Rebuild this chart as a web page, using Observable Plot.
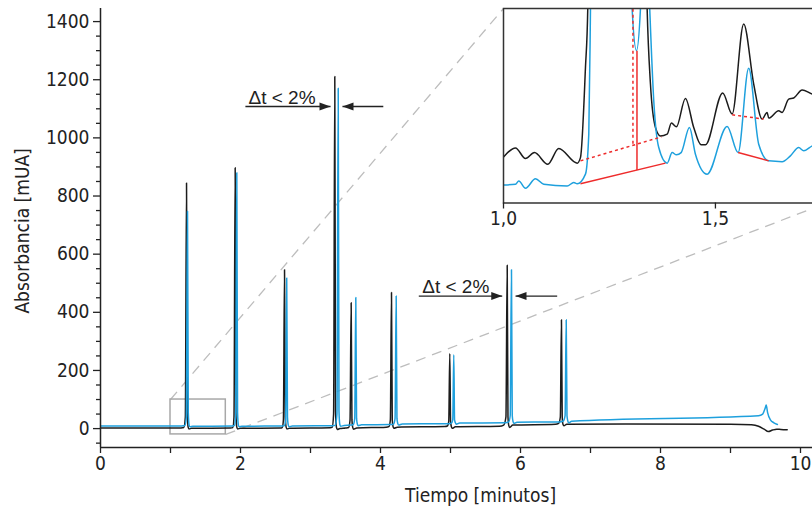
<!DOCTYPE html>
<html>
<head>
<meta charset="utf-8">
<script src="https://cdn.jsdelivr.net/npm/d3@7"></script>
<script src="https://cdn.jsdelivr.net/npm/@observablehq/plot@0.6"></script>
<style>
  html, body { margin: 0; padding: 0; background: #fff; overflow: hidden; }
  #wrap { position: relative; width: 812px; height: 508px; overflow: hidden; background: #fff; }
  #inset { position: absolute; }
  #wrap svg { max-width: none !important; }
</style>
</head>
<body>
<div id="wrap"><div id="inset"></div></div>
<script>
// ---------- data ----------
// main chromatogram: [time (min), absorbance (mUA)]
const blackTrace = [
  [0.00, 2], [1.15, 2], [1.19, 3.5], [1.212, 40], [1.229, 845], [1.240, 55], [1.252, 5], [1.264, -1], [1.30, 1],
  [1.86, 2], [1.89, 3.5], [1.907, 40], [1.924, 897], [1.935, 55], [1.947, 5], [1.959, -1], [1.995, 1],
  [2.57, 2], [2.596, 3.5], [2.613, 30], [2.629, 546], [2.640, 40], [2.652, 5], [2.664, -1], [2.70, 1],
  [3.28, 3], [3.31, 4.5], [3.330, 50], [3.347, 1211], [3.358, 60], [3.370, 5], [3.382, -3], [3.42, 0],
  [3.50, 2], [3.545, 4], [3.565, 30], [3.581, 433], [3.592, 30], [3.603, 4], [3.615, -2], [3.66, 2],
  [4.08, 5], [4.12, 7], [4.141, 30], [4.157, 468], [4.168, 30], [4.180, 6], [4.192, 1], [4.24, 5],
  [4.92, 7], [4.955, 9], [4.975, 25], [4.990, 258], [5.001, 25], [5.013, 6], [5.025, 1], [5.07, 6],
  [5.70, 8], [5.76, 12], [5.792, 40], [5.810, 562], [5.821, 40], [5.833, 10], [5.845, 4], [5.89, 12],
  [6.50, 15], [6.545, 18], [6.569, 40], [6.585, 374], [6.596, 40], [6.608, 14], [6.620, 10], [6.66, 15],
  [7.50, 16], [9.00, 15], [9.30, 13], [9.40, 8], [9.48, -2], [9.54, -10], [9.60, -5], [9.66, -2], [9.72, -3], [9.81, -4]
];
const blueTrace = [
  [0.00, 9], [1.16, 9], [1.205, 10.5], [1.226, 40], [1.243, 748], [1.254, 55], [1.266, 12], [1.278, 6], [1.32, 8],
  [1.88, 9], [1.912, 10.5], [1.930, 40], [1.947, 880], [1.958, 55], [1.970, 12], [1.982, 6], [2.02, 8],
  [2.60, 9], [2.628, 10.5], [2.645, 30], [2.660, 518], [2.671, 40], [2.683, 12], [2.695, 6], [2.74, 9],
  [3.32, 10], [3.355, 12], [3.378, 50], [3.396, 1171], [3.407, 60], [3.419, 14], [3.431, 8], [3.48, 11],
  [3.58, 12], [3.612, 14], [3.632, 35], [3.647, 451], [3.658, 35], [3.670, 15], [3.682, 10], [3.73, 13],
  [4.15, 14], [4.188, 16], [4.208, 35], [4.224, 456], [4.235, 35], [4.247, 17], [4.259, 12], [4.31, 16],
  [4.98, 17], [5.013, 19], [5.032, 30], [5.047, 254], [5.058, 30], [5.070, 20], [5.082, 15], [5.13, 19],
  [5.78, 20], [5.832, 23], [5.853, 45], [5.871, 546], [5.882, 45], [5.894, 24], [5.906, 18], [5.95, 22],
  [6.56, 23], [6.610, 26], [6.637, 45], [6.653, 374], [6.664, 45], [6.676, 26], [6.688, 20], [6.73, 25],
  [9.40, 44], [9.46, 50], [9.495, 70], [9.51, 81], [9.53, 55], [9.57, 30], [9.62, 20], [9.67, 14]
];

// inset (zoom of 1.0 – 1.76 min), relative absorbance units
const insetBlack = [
  [1.0007, 28.6], [1.0283, 34.0], [1.0519, 27.4], [1.0731, 31.1], [1.1045, 23.9], [1.1304, 33.6],
  [1.1738, 24.6], [1.1816, 28.0], [1.1934, 83.7], [1.1988, 119.8], [1.205, 250], [1.33, 250],
  [1.3389, 119.8], [1.3467, 73.4], [1.3585, 46.6], [1.3703, 41.4], [1.3861, 42.5], [1.3962, 49.3],
  [1.408, 47.0], [1.4292, 64.5], [1.4488, 46.6], [1.4663, 35.9], [1.4764, 35.9], [1.5172, 67.9],
  [1.5394, 54.9], [1.5667, 110.5], [1.5903, 73.4], [1.6101, 51.8], [1.6219, 55.9], [1.6257, 52.4],
  [1.6493, 56.9], [1.6573, 55.9], [1.6729, 64.1], [1.6847, 64.8], [1.7045, 69.7], [1.7288, 67.2], [1.762, 66]
];
const insetBlue = [
  [1.0007, 11.1], [1.0283, 11.6], [1.0361, 13.6], [1.0519, 9.1], [1.0755, 15.0], [1.0950, 11.6],
  [1.1502, 10.5], [1.1658, 12.6], [1.1738, 11.8], [1.1934, 17.8], [1.2012, 42.5], [1.2052, 119.8],
  [1.21, 250], [1.295, 250], [1.3035, 119.8], [1.3137, 94.0], [1.3231, 119.8], [1.33, 170], [1.338, 170],
  [1.3450, 119.8], [1.3545, 63.1], [1.3663, 34.2], [1.3861, 24.6], [1.3979, 31.1], [1.4080, 29.7],
  [1.4191, 31.1], [1.4387, 46.6], [1.4528, 30.1], [1.4804, 17.8], [1.5276, 47.2], [1.5535, 31.1],
  [1.5785, 83.1], [1.6021, 36.3], [1.6257, 26.0], [1.6573, 25.5], [1.6769, 29.1], [1.6965, 34.2],
  [1.7083, 32.2], [1.7288, 35.3], [1.762, 37]
];
// integration baselines in the inset: [t1, v1, t2, v2, dashed]
const insetBaselines = [
  [1.1816, 11.9, 1.3821, 24.6, false],
  [1.3149, 94.0, 1.3149, 20.3, false],
  [1.1816, 26.0, 1.3726, 40.8, true],
  [1.3054, 119.8, 1.3054, 35.6, true],
  [1.5535, 31.1, 1.6257, 26.0, false],
  [1.5394, 54.4, 1.6139, 51.8, true]
];

// axes
const yTicks = [0, 200, 400, 600, 800, 1000, 1200, 1400];
const yMinor = [-50, 50, 100, 150, 250, 300, 350, 450, 500, 550, 650, 700, 750, 850, 900, 950, 1050, 1100, 1150, 1250, 1300, 1350];
const xTicks = [0, 1, 2, 3, 4, 5, 6, 7, 8, 9, 10];
const xLabels = ["0", "", "2", "", "4", "", "6", "", "8", "", "10"];
const insetTicks = [1.0, 1.5];
const insetTickLabels = ["1,0", "1,5"];
const xTitle = "Tiempo [minutos]";
const yTitle = "Absorbancia [mUA]";

// annotations
const notes = [
  {label: "\u0394t < 2%", tx: 2.114, ty: 1138, ly: 1108, lFrom: 2.07, lTip: 3.286, rFrom: 4.04, rTip: 3.457},
  {label: "\u0394t < 2%", tx: 4.596, ty: 488, ly: 456, lFrom: 4.547, lTip: 5.739, rFrom: 6.524, rTip: 5.929}
];
// zoom box (main coords) and where the inset sits (main coords)
const zoomBox = {x1: 1.0, x2: 1.79, y1: -20, y2: 100};
const insetPlace = {x1: 5.757, x2: 10.371, y1: 776, y2: 1445};
const insetDomainX = [1.0, 1.762];
const insetDomainY = [0, 120];

// ---------- styling ----------
const FONT_C = '"Liberation Sans Narrow","Arial Narrow","DejaVu Sans Condensed",sans-serif';
const FONT_R = '"Liberation Sans",Arial,sans-serif';
const BLACK = "#1c1c1c";
const BLUE = "#1ea0dd";
const RED = "#ee2b2b";
const AX = "#222";

const main = Plot.plot({
  width: 812, height: 508,
  marginLeft: 100, marginRight: 12, marginTop: 8, marginBottom: 61,
  x: {domain: [0, 10]},
  y: {domain: [-65, 1445]},
  style: {fontFamily: FONT_C, fontSize: "19px", color: AX, background: "transparent", overflow: "visible"},
  marks: [
    Plot.link([
      {x1: zoomBox.x1, y1: zoomBox.y2, x2: insetPlace.x1, y2: insetPlace.y2},
      {x1: zoomBox.x2, y1: zoomBox.y1, x2: insetPlace.x2, y2: insetPlace.y1}
    ], {x1: "x1", y1: "y1", x2: "x2", y2: "y2", stroke: "#bdbdbd", strokeWidth: 1.3, strokeDasharray: "10,7"}),
    Plot.rect([zoomBox], {x1: "x1", x2: "x2", y1: "y1", y2: "y2", fill: "none", stroke: "#a8a8a8", strokeWidth: 1.5}),
    Plot.line(blackTrace, {x: d => d[0], y: d => d[1], stroke: BLACK, strokeWidth: 1.5, curve: "monotone-x"}),
    Plot.line(blueTrace, {x: d => d[0], y: d => d[1], stroke: BLUE, strokeWidth: 1.5, curve: "monotone-x"}),
    Plot.ruleX([0], {stroke: AX, strokeWidth: 1.5}),
    Plot.ruleY([{y: -65, x1: 0, x2: 10.2}], {y: "y", x1: "x1", x2: "x2", stroke: AX, strokeWidth: 1.5}),
    Plot.axisY({ticks: yTicks, tickSize: 7, tickPadding: 4, label: null, tickFormat: d => String(d), strokeWidth: 1.3}),
    Plot.axisY({ticks: yMinor, tickSize: 4, tickPadding: 4, label: null, tickFormat: () => "", strokeWidth: 1.3}),
    Plot.axisX({ticks: xTicks, tickSize: 6, tickPadding: 3, label: null, tickFormat: d => xLabels[xTicks.indexOf(d)], strokeWidth: 1.3}),
    Plot.text([xTitle], {text: d => d, x: 5.43, frameAnchor: "bottom", lineAnchor: "middle", dy: 48, fontSize: 19}),
    Plot.text([yTitle], {text: d => d, y: 680, frameAnchor: "left", textAnchor: "middle", lineAnchor: "middle", dx: -78, rotate: -90, fontSize: 19}),
    // annotations
    Plot.link(notes, {x1: "lFrom", x2: "lTip", y1: "ly", y2: "ly", stroke: AX, strokeWidth: 1.3}),
    Plot.link(notes, {x1: "rFrom", x2: "rTip", y1: "ly", y2: "ly", stroke: AX, strokeWidth: 1.3}),
    Plot.vector(notes, {x: "lTip", y: "ly", rotate: 90, length: 11, r: 4, anchor: "end", shape: "spike", fill: AX, stroke: "none"}),
    Plot.vector(notes, {x: "rTip", y: "ly", rotate: -90, length: 11, r: 4, anchor: "end", shape: "spike", fill: AX, stroke: "none"}),
    Plot.text(notes, {x: "tx", y: "ty", text: "label", textAnchor: "start", fontFamily: FONT_R, fontSize: 19, fill: AX})
  ]
});
document.getElementById("wrap").insertBefore(main, document.getElementById("inset"));

// ---------- inset ----------
const xs = main.scale("x"), ys = main.scale("y");
const iLeft = xs.apply(insetPlace.x1), iRight = xs.apply(insetPlace.x2);
const iTop = ys.apply(insetPlace.y2), iBottom = ys.apply(insetPlace.y1);
const pad = 24;
const iWidth = Math.round((iRight - iLeft) + 2 * pad);
const iHeight = Math.round(iBottom + 40);
const inset = Plot.plot({
  width: iWidth,
  height: iHeight,
  marginLeft: pad, marginRight: iWidth - pad - (iRight - iLeft), marginTop: iTop, marginBottom: iHeight - iBottom,
  x: {domain: insetDomainX},
  y: {domain: insetDomainY, axis: null},
  style: {fontFamily: FONT_C, fontSize: "19px", color: AX, background: "transparent", overflow: "visible"},
  marks: [
    Plot.frame({fill: "white", stroke: "none"}),
    Plot.line(insetBlack, {x: d => d[0], y: d => d[1], stroke: BLACK, strokeWidth: 1.5, curve: "monotone-x", clip: true}),
    Plot.line(insetBlue, {x: d => d[0], y: d => d[1], stroke: BLUE, strokeWidth: 1.5, curve: "monotone-x", clip: true}),
    Plot.link(insetBaselines.filter(d => !d[4]), {x1: d => d[0], y1: d => d[1], x2: d => d[2], y2: d => d[3], stroke: RED, strokeWidth: 1.5}),
    Plot.link(insetBaselines.filter(d => d[4]), {x1: d => d[0], y1: d => d[1], x2: d => d[2], y2: d => d[3], stroke: RED, strokeWidth: 1.5, strokeDasharray: "3,3"}),
    Plot.frame({stroke: "#333", strokeWidth: 1.5}),
    Plot.axisX({ticks: insetTicks, tickSize: 6, tickPadding: 3, label: null, tickFormat: d => insetTickLabels[insetTicks.indexOf(d)], strokeWidth: 1.3})
  ]
});
inset.style.maxWidth = "none";
const holder = document.getElementById("inset");
holder.style.left = (iLeft - pad) + "px";
holder.style.top = "0px";
holder.style.width = iWidth + "px";
holder.appendChild(inset);
</script>
</body>
</html>
